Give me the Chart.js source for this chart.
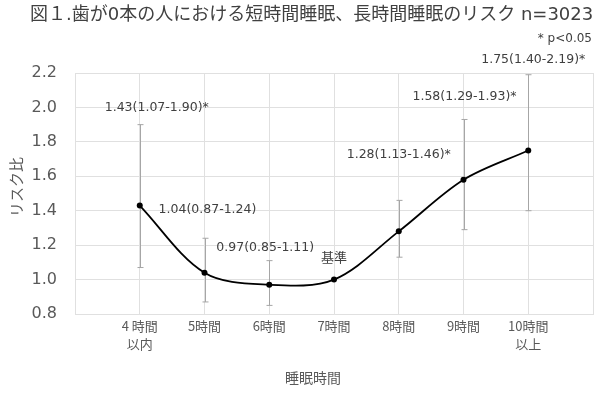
<!DOCTYPE html>
<html lang="ja">
<head>
<meta charset="utf-8">
<script src="https://cdn.jsdelivr.net/npm/chart.js@4.4.1/dist/chart.umd.min.js"></script>
<style>
    html, body { margin: 0; padding: 0; background: #fff; }
    #wrap { width: 600px; height: 400px; }
</style>
</head>
<body>
<div id="wrap"><canvas id="chart-sleep-risk" width="600" height="400"></canvas></div>
<script>
const categories = [['4 時間', '以内'], '5時間', '6時間', '7時間', '8時間', '9時間', ['10時間', '以上']];
const riskValues = [1.43, 1.04, 0.97, 1.00, 1.28, 1.58, 1.75];
const lowerCI = [1.07, 0.87, 0.85, null, 1.13, 1.29, 1.40];
const upperCI = [1.90, 1.24, 1.11, null, 1.46, 1.93, 2.19];
const pointLabels = ['1.43(1.07-1.90)*', '1.04(0.87-1.24)', '0.97(0.85-1.11)', '基準', '1.28(1.13-1.46)*', '1.58(1.29-1.93)*', '1.75(1.40-2.19)*'];
const yTicks = [0.8, 1.0, 1.2, 1.4, 1.6, 1.8, 2.0, 2.2];

const chartTitle = '図１.歯が0本の人における短時間睡眠、長時間睡眠のリスク n=3023';
const noteText = '* p<0.05';
const xTitle = '睡眠時間';
const yTitle = 'リスク比';

// label placement (pixel offsets from the point)
const labelOffsets = [[17, -98], [3, -63], [-4, -37], [0, -23], [0, -77], [1, -83], [5, -91]];

const FONT = "'DejaVu Sans', 'Noto Sans CJK JP', sans-serif";
const CJK = "'Noto Sans CJK JP', 'DejaVu Sans', sans-serif";
const gridColor = '#e0e0e0';

// empty slot on each side, like the original
const axisLabels = [''].concat(categories, ['']);
const lineData = [null].concat(riskValues, [null]);

const errorBars = {
    id: 'errorBars',
    beforeDatasetsDraw(chart) {
        const { ctx, scales: { x, y } } = chart;
        ctx.save();
        ctx.strokeStyle = '#a6a6a6';
        ctx.lineWidth = 1;
        upperCI.forEach((hi, i) => {
            if (hi == null) return;
            const px = Math.round(x.getPixelForValue(i + 1)) + 0.5;
            const yHi = y.getPixelForValue(hi);
            const yLo = y.getPixelForValue(lowerCI[i]);
            ctx.beginPath();
            ctx.moveTo(px, yHi); ctx.lineTo(px, yLo);
            ctx.moveTo(px - 3, yHi); ctx.lineTo(px + 3, yHi);
            ctx.moveTo(px - 3, yLo); ctx.lineTo(px + 3, yLo);
            ctx.stroke();
        });
        ctx.restore();
    }
};

const textLayer = {
    id: 'textLayer',
    afterDatasetsDraw(chart) {
        const { ctx, scales: { x, y } } = chart;
        ctx.save();
        ctx.textAlign = 'center';
        ctx.textBaseline = 'middle';
        ctx.fillStyle = '#404040';
        pointLabels.forEach((txt, i) => {
            const px = x.getPixelForValue(i + 1);
            const py = y.getPixelForValue(riskValues[i]);
            ctx.font = (txt === '基準' ? '13px ' + CJK : '12.5px ' + FONT);
            ctx.fillText(txt, px + labelOffsets[i][0], py + labelOffsets[i][1]);
        });

        ctx.font = '18px ' + FONT;
        ctx.textAlign = 'left';
        ctx.fillText(chartTitle, 30, 15);

        ctx.font = '12px ' + FONT;
        ctx.textAlign = 'right';
        ctx.fillText(noteText, 592, 39);

        ctx.fillStyle = '#595959';
        ctx.font = '14px ' + CJK;
        ctx.textAlign = 'center';
        ctx.fillText(xTitle, 313, 378);

        ctx.translate(16, 187);
        ctx.rotate(-Math.PI / 2);
        ctx.font = '15px ' + CJK;
        ctx.fillText(yTitle, 0, 0);
        ctx.restore();
    }
};

new Chart(document.getElementById('chart-sleep-risk').getContext('2d'), {
    type: 'line',
    data: {
        labels: axisLabels,
        datasets: [{
            data: lineData,
            borderColor: '#000000',
            backgroundColor: '#000000',
            borderWidth: 1.8,
            pointRadius: 3,
            pointBackgroundColor: '#000000',
            pointBorderWidth: 0,
            tension: 0.33,
            fill: false
        }]
    },
    options: {
        responsive: false,
        animation: false,
        layout: { padding: { top: 73, right: 7, left: 0, bottom: 0 } },
        plugins: {
            legend: { display: false },
            tooltip: { enabled: false },
            title: { display: false }
        },
        scales: {
            x: {
                type: 'category',
                offset: false,
                grid: { color: gridColor, drawTicks: false },
                border: { color: gridColor },
                ticks: {
                    autoSkip: false,
                    maxRotation: 0,
                    padding: 3,
                    color: '#595959',
                    font: { family: CJK, size: 13, lineHeight: 1.4 }
                },
                afterFit(scale) { scale.height = 86; }
            },
            y: {
                min: yTicks[0],
                max: yTicks[yTicks.length - 1],
                grid: { color: gridColor, drawTicks: false },
                border: { color: gridColor },
                afterBuildTicks(scale) { scale.ticks = yTicks.map(v => ({ value: v })); },
                ticks: {
                    padding: 18,
                    color: '#595959',
                    font: { family: FONT, size: 16 },
                    callback: v => Number(v).toFixed(1)
                },
                afterFit(scale) { scale.width = 75; }
            }
        }
    },
    plugins: [errorBars, textLayer]
});
</script>
</body>
</html>
